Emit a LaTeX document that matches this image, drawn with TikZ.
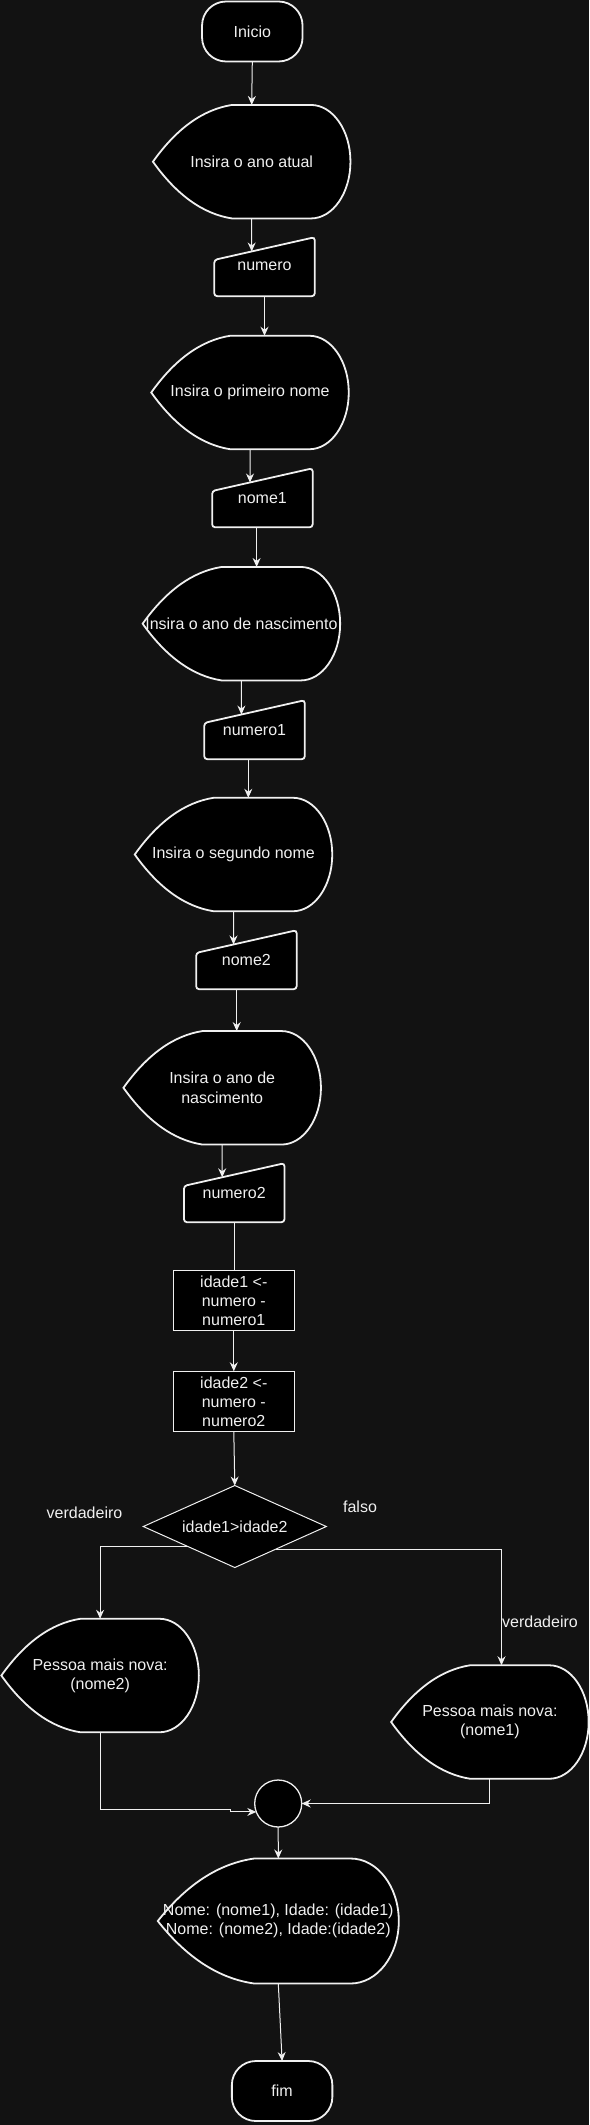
\documentclass[tikz,border=0pt]{standalone}
\usepackage{fontspec}
\setmainfont{Liberation Sans}
\usetikzlibrary{shapes.geometric,arrows.meta,calc}
\definecolor{bgc}{HTML}{121212}
\definecolor{txc}{HTML}{F0F0F0}
\definecolor{lnc}{HTML}{F0F0F0}
\def\midrop{22.7pt}
\makeatletter
\pgfdeclareshape{dispshape}{%
  \inheritsavedanchors[from=rectangle]%
  \inheritanchorborder[from=rectangle]%
  \inheritanchor[from=rectangle]{center}%
  \inheritanchor[from=rectangle]{north}%
  \inheritanchor[from=rectangle]{south}%
  \inheritanchor[from=rectangle]{east}%
  \inheritanchor[from=rectangle]{west}%
  \inheritanchor[from=rectangle]{north east}%
  \inheritanchor[from=rectangle]{north west}%
  \inheritanchor[from=rectangle]{south east}%
  \inheritanchor[from=rectangle]{south west}%
  \inheritanchor[from=rectangle]{mid}%
  \inheritanchor[from=rectangle]{base}%
  \backgroundpath{%
    \southwest \edef\ds@xa{\the\pgf@x}\edef\ds@ya{\the\pgf@y}%
    \northeast \edef\ds@xb{\the\pgf@x}\edef\ds@yb{\the\pgf@y}%
    \pgfmathsetmacro\ds@w{\ds@xb-\ds@xa}%
    \pgfmathsetmacro\ds@h{\ds@yb-\ds@ya}%
    \pgfmathsetmacro\ds@ym{0.5*(\ds@ya+\ds@yb)}%
    \pgfmathsetmacro\ds@l{\ds@xa+0.4*\ds@w}%
    \pgfmathsetmacro\ds@r{\ds@xb-0.2*\ds@w}%
    \pgfmathsetmacro\ds@qx{\ds@xa+0.18*\ds@w}%
    \pgfmathsetmacro\ds@qt{\ds@yb-0.06*\ds@h}%
    \pgfmathsetmacro\ds@qb{\ds@ya+0.06*\ds@h}%
    \pgfmathsetmacro\ds@rx{0.2*\ds@w}%
    \pgfmathsetmacro\ds@ry{0.5*\ds@h}%
    \pgfpathmoveto{\pgfpoint{\ds@xa}{\ds@ym pt}}%
    \pgfpathquadraticcurveto{\pgfpoint{\ds@qx pt}{\ds@qt pt}}{\pgfpoint{\ds@l pt}{\ds@yb}}%
    \pgfpathlineto{\pgfpoint{\ds@r pt}{\ds@yb}}%
    \pgfpatharc{90}{-90}{\ds@rx pt and \ds@ry pt}%
    \pgfpathlineto{\pgfpoint{\ds@l pt}{\ds@ya}}%
    \pgfpathquadraticcurveto{\pgfpoint{\ds@qx pt}{\ds@qb pt}}{\pgfpoint{\ds@xa}{\ds@ym pt}}%
    \pgfpathclose
  }%
}
\pgfdeclareshape{maninshape}{%
  \inheritsavedanchors[from=rectangle]%
  \inheritanchorborder[from=rectangle]%
  \inheritanchor[from=rectangle]{center}%
  \inheritanchor[from=rectangle]{north}%
  \inheritanchor[from=rectangle]{south}%
  \inheritanchor[from=rectangle]{east}%
  \inheritanchor[from=rectangle]{west}%
  \inheritanchor[from=rectangle]{north east}%
  \inheritanchor[from=rectangle]{north west}%
  \inheritanchor[from=rectangle]{south east}%
  \inheritanchor[from=rectangle]{south west}%
  \inheritanchor[from=rectangle]{mid}%
  \inheritanchor[from=rectangle]{base}%
  \anchor{tr}{\northeast}%
  \anchor{tl}{\southwest\pgf@xa=\pgf@x\northeast\pgf@x=\pgf@xa\advance\pgf@y by-\midrop}%
  \backgroundpath{%
    \southwest \edef\mi@xa{\the\pgf@x}\edef\mi@ya{\the\pgf@y}%
    \northeast \edef\mi@xb{\the\pgf@x}\edef\mi@yb{\the\pgf@y}%
    \pgfmathsetmacro\mi@xm{0.5*(\mi@xa+\mi@xb)}%
    \pgfmathsetmacro\mi@yt{\mi@yb-\midrop}%
    \pgfpathmoveto{\pgfpoint{\mi@xm pt}{\mi@ya}}%
    \pgfpathlineto{\pgfpoint{\mi@xb}{\mi@ya}}%
    \pgfpathlineto{\pgfpoint{\mi@xb}{\mi@yb}}%
    \pgfpathlineto{\pgfpoint{\mi@xa}{\mi@yt pt}}%
    \pgfpathlineto{\pgfpoint{\mi@xa}{\mi@ya}}%
    \pgfpathclose
  }%
}
\makeatother
\tikzset{
  nbase/.style={fill=black, draw=lnc, text=txc, font=\fontsize{16}{19.2}\selectfont, inner sep=0pt, outer sep=0pt, align=center},
  term/.style={nbase, rectangle, rounded corners=24pt, line width=1.8pt, minimum width=100.5, minimum height=60},
  disp/.style={nbase, dispshape, line width=1.8pt, minimum width=197.5, minimum height=113.5},
  manin/.style={nbase, maninshape, rounded corners=3pt, line width=1.8pt, minimum width=100.5, minimum height=59},
  proc/.style={nbase, rectangle, line width=1pt, minimum width=120.5, minimum height=60.5},
  decis/.style={nbase, diamond, aspect=2.23, line width=1pt, minimum width=183, minimum height=82},
  conn/.style={nbase, circle, line width=1.3pt, minimum size=47},
  lbl/.style={text=txc, font=\fontsize{16}{19.2}\selectfont, inner sep=0pt},
  arr/.style={draw=lnc, line width=1pt, -{Stealth[length=9pt,width=8pt,inset=3pt]}},
  ln/.style={draw=lnc, line width=1pt},
}
\begin{document}
\begin{tikzpicture}[x=1pt,y=-1pt]
\fill[bgc] (0,0) rectangle (589,2125);
\useasboundingbox (0,0) rectangle (589,2125);
% nodes
\node[term] (ini) at (252.3,31.5) {Inicio};
\node[disp] (d1) at (251.7,161.7) {Insira o ano atual};
\node[manin] (m1) at (264.5,266.7) {numero};
\node[disp] (d2) at (250,392.5) {Insira o primeiro nome};
\node[manin] (m2) at (262.4,497.8) {nome1};
\node[disp] (d3) at (241.4,623.7) {Insira o ano de nascimento};
\node[manin] (m3) at (254.5,729.7) {numero1};
\node[disp] (d4) at (233.5,854.5) {Insira o segundo nome};
\node[manin] (m4) at (246.4,959.7) {nome2};
\node[disp] (d5) at (222.2,1087.8) {Insira o ano de\\nascimento};
\node[manin] (m5) at (234.2,1192.7) {numero2};
\node[proc] (p1) at (233.8,1300.5) {idade1 <-\\numero -\\numero1};
\node[proc] (p2) at (233.8,1401.5) {idade2 <-\\numero -\\numero2};
\node[decis] (dec) at (234.8,1526.5) {idade1>idade2};
\node[lbl] (lv) at (84.5,1513) {verdadeiro};
\node[lbl] (lf) at (360,1507) {falso};
\node[disp] (dl) at (100.1,1675.5) {Pessoa mais nova:\\(nome2)};
\node[disp] (dr) at (489.9,1722) {Pessoa mais nova:\\(nome1)};
\node[lbl, anchor=west] (lv2) at (502,1622) {verdadeiro};
\node[conn] (circ) at (278.2,1803.5) {};
\node[disp, minimum width=241, minimum height=125] (df) at (278.3,1921) {Nome: (nome1), Idade: (idade1)\\Nome: (nome2), Idade:(idade2)};
\node[term] (fim) at (282.1,2091) {fim};
% connectors
\draw[arr] (ini.south) -- (d1.north);
\draw[arr] (d1.south) -- (intersection of d1.north--d1.south and m1.tl--m1.tr);
\draw[arr] (m1.south) -- (m1.south |- d2.north);
\draw[arr] (d2.south) -- (intersection of d2.north--d2.south and m2.tl--m2.tr);
\coordinate (e2) at ($(m2.south)+(-5.8,0)$);
\draw[arr] (e2) -- (e2 |- d3.north);
\draw[arr] (d3.south) -- (intersection of d3.north--d3.south and m3.tl--m3.tr);
\coordinate (e3) at ($(m3.south)+(-6.2,0)$);
\draw[arr] (e3) -- (e3 |- d4.north);
\draw[arr] (d4.south) -- (intersection of d4.north--d4.south and m4.tl--m4.tr);
\coordinate (e4) at ($(m4.south)+(-9.7,0)$);
\draw[arr] (e4) -- (e4 |- d5.north);
\draw[arr] (d5.south) -- (intersection of d5.north--d5.south and m5.tl--m5.tr);
\draw[ln] (m5.south) -- (m5.south |- p1.north);
\draw[arr] (p1.south) -- (p2.north);
\draw[arr] (p2.south) -- (dec.north);
\coordinate (bl) at ($(dec.west)!0.49!(dec.south)$);
\draw[arr] (bl) -| (dl.north);
\coordinate (br) at ($(dec.south)!0.45!(dec.east)$);
\coordinate (brt) at ($(dr.north)+(11.6,0)$);
\draw[arr] (br) -| (brt);
\coordinate (j1) at (230.3,1809);
\draw[arr] (dl.south) |- (j1) |- (circ.201);
\draw[arr] (dr.south) |- (circ.east);
\draw[arr] (circ.south) -- (df.north);
\draw[arr] (df.south) -- (fim.north);
\end{tikzpicture}
\end{document}
